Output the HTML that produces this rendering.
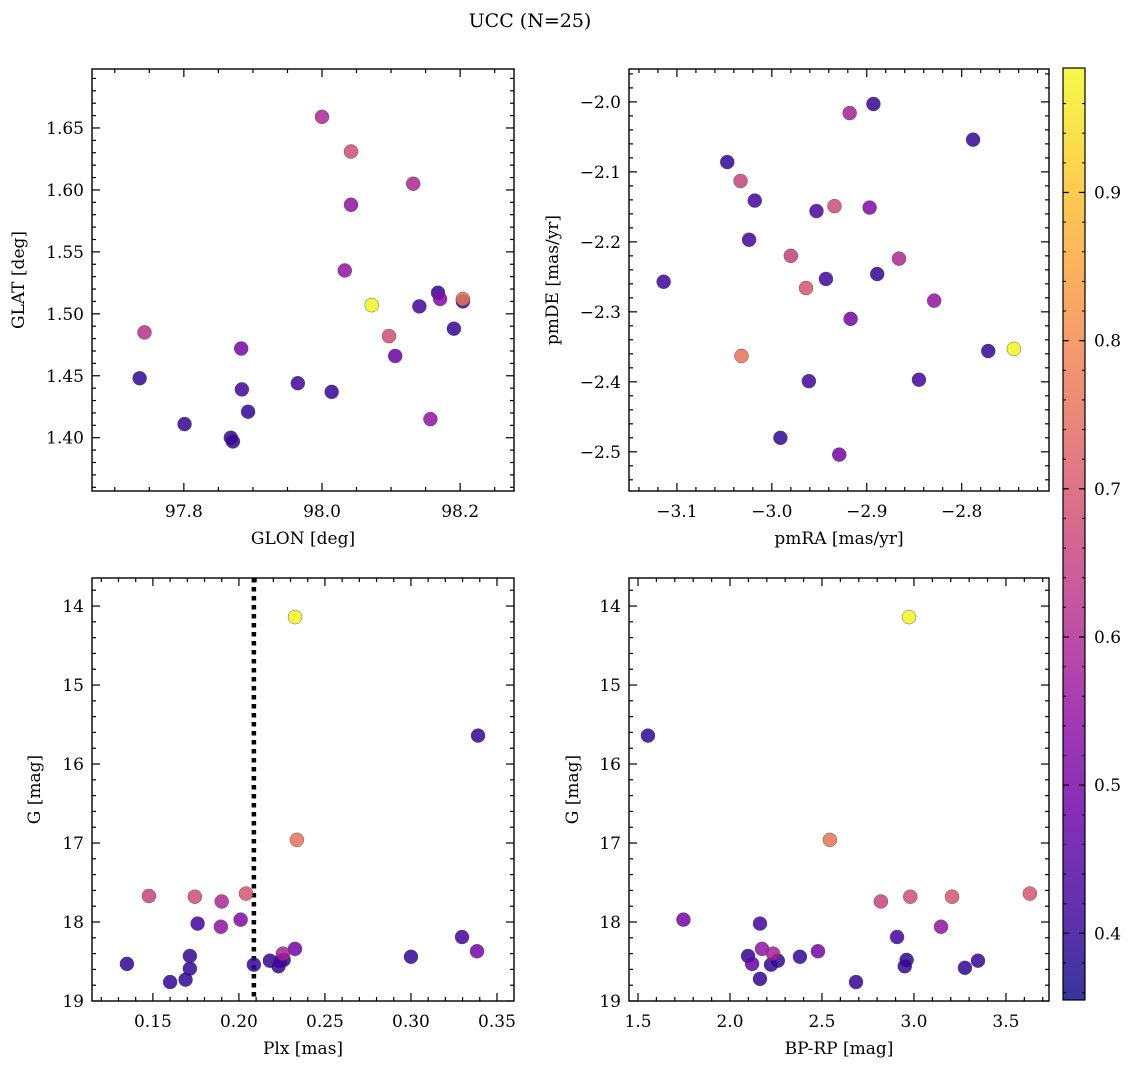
<!DOCTYPE html>
<html><head><meta charset="utf-8"><style>
html,body{margin:0;padding:0;background:#fff}
svg{display:block;font-family:"DejaVu Serif","Liberation Serif",serif}
</style></head><body>
<svg id="fig" width="1136" height="1068" viewBox="0 0 1136 1068" xmlns="http://www.w3.org/2000/svg">
<defs><linearGradient id="cbg" x1="0" y1="1" x2="0" y2="0"></linearGradient></defs>
<text x="530" y="27" font-size="19" text-anchor="middle">UCC (N=25)</text>
</svg>
<script>
// Panel 1: GLON vs GLAT
const p1X=[98.0,98.042,98.042,98.132,98.033,98.072,98.204,98.204,98.168,98.171,98.141,98.191,98.097,98.106,97.743,97.736,97.883,97.884,97.965,98.014,97.893,97.801,97.868,97.871,98.157];
const p1Y=[1.659,1.631,1.588,1.605,1.535,1.507,1.512,1.510,1.517,1.512,1.506,1.488,1.482,1.466,1.485,1.448,1.472,1.439,1.444,1.437,1.421,1.411,1.400,1.397,1.415];
const p1C=[0.60,0.68,0.55,0.60,0.55,0.98,0.76,0.40,0.40,0.52,0.42,0.40,0.68,0.48,0.62,0.40,0.50,0.42,0.42,0.40,0.40,0.40,0.40,0.40,0.55];
// Panel 2: pmRA vs pmDE
const p2X=[-2.918,-2.893,-3.047,-2.788,-3.033,-3.018,-2.953,-2.934,-2.897,-3.024,-2.980,-2.889,-2.943,-2.866,-3.114,-2.964,-2.829,-2.917,-2.772,-2.745,-3.032,-2.961,-2.845,-2.991,-2.929];
const p2Y=[-2.016,-2.003,-2.086,-2.054,-2.113,-2.141,-2.156,-2.149,-2.151,-2.197,-2.220,-2.246,-2.253,-2.224,-2.257,-2.266,-2.284,-2.310,-2.356,-2.353,-2.363,-2.399,-2.397,-2.480,-2.504];
const p2C=[0.58,0.40,0.40,0.40,0.66,0.42,0.43,0.68,0.52,0.42,0.65,0.40,0.42,0.60,0.42,0.70,0.55,0.50,0.40,0.98,0.76,0.42,0.42,0.40,0.50];
// Panel 3: Plx vs G
const p3X=[0.2326,0.339,0.2337,0.1477,0.1744,0.2041,0.190,0.201,0.1895,0.176,0.3297,0.3384,0.2326,0.2256,0.1715,0.300,0.1349,0.218,0.226,0.223,0.2087,0.1715,0.160,0.169,0.224];
const p3Y=[14.14,15.64,16.96,17.67,17.68,17.64,17.74,17.97,18.06,18.02,18.19,18.37,18.34,18.40,18.43,18.44,18.53,18.49,18.48,18.56,18.54,18.59,18.76,18.73,18.50];
const p3C=[0.98,0.40,0.76,0.66,0.68,0.70,0.60,0.52,0.55,0.42,0.42,0.50,0.50,0.58,0.40,0.40,0.40,0.40,0.40,0.40,0.40,0.40,0.40,0.40,0.42];
// Panel 4: BP-RP vs G
const p4X=[2.973,1.554,2.543,3.63,2.98,3.207,2.82,1.747,3.147,2.163,2.908,2.174,2.234,2.478,2.098,2.38,2.12,2.26,2.223,2.96,3.348,2.95,3.277,2.163,2.685];
const p4Y=[14.14,15.64,16.96,17.64,17.68,17.68,17.74,17.97,18.06,18.02,18.19,18.34,18.40,18.37,18.43,18.44,18.53,18.49,18.54,18.48,18.49,18.56,18.58,18.72,18.76];
const p4C=[0.98,0.40,0.76,0.70,0.68,0.70,0.66,0.50,0.55,0.42,0.42,0.55,0.58,0.50,0.40,0.40,0.48,0.40,0.40,0.40,0.40,0.40,0.40,0.40,0.40];
const cbTicks=[0.4,0.5,0.6,0.7,0.8,0.9];
const plxCut=[0.2087];

const NS="http://www.w3.org/2000/svg";
const svg=document.getElementById('fig');
function el(tag,attrs,parent){const e=document.createElementNS(NS,tag);for(const k in attrs)e.setAttribute(k,attrs[k]);(parent||svg).appendChild(e);return e;}
const stops=[[13,8,135],[65,4,157],[106,0,168],[143,13,164],[177,42,144],[204,71,120],[225,100,98],[242,132,75],[252,166,54],[252,206,37],[240,249,33]];
const vmin=0.355,vmax=0.984;
function plasma(v){let t=(v-vmin)/(vmax-vmin);t=Math.max(0,Math.min(1,t))*10;const i=Math.min(9,Math.floor(t)),f=t-i;const a=stops[i],b=stops[i+1];return 'rgb('+a.map((c,k)=>Math.round(c+(b[k]-c)*f)).join(',')+')';}

function panel(cfg){
  const {name,L,T,R,B,xd,yd,xmaj,xmin,ymaj,ymin,xfmt,yfmt,xl,yl,xs,ys,cs,ylx}=cfg;
  const g=el('g',{});
  
  
  const sx=v=>L+(v-xd[0])/(xd[1]-xd[0])*(R-L);
  const sy=v=>T+(v-yd[0])/(yd[1]-yd[0])*(B-T);
  const ticks=el('g',{stroke:'#000','stroke-width':1.2},g);
  
  
  const lo=Math.min(...xd),hi=Math.max(...xd);
  for(let k=Math.ceil(lo/xmin-1e-6);k*xmin<=hi+1e-9;k++){const v=k*xmin,x=sx(v);const maj=Math.abs(v/xmaj-Math.round(v/xmaj))<1e-6;const len=maj?8:4;
    el('line',{x1:x,x2:x,y1:B,y2:B-len},ticks);el('line',{x1:x,x2:x,y1:T,y2:T+len},ticks);
    if(maj){const t=el('text',{x:x,y:B+26,'font-size':17,'text-anchor':'middle',stroke:'none'},g);t.textContent=xfmt(v);}}
  const ylo=Math.min(...yd),yhi=Math.max(...yd);
  for(let k=Math.ceil(ylo/ymin-1e-6);k*ymin<=yhi+1e-9;k++){const v=k*ymin,y=sy(v);const maj=Math.abs(v/ymaj-Math.round(v/ymaj))<1e-6;const len=maj?8:4;
    el('line',{x1:L,x2:L+len,y1:y,y2:y},ticks);el('line',{x1:R,x2:R-len,y1:y,y2:y},ticks);
    if(maj){const t=el('text',{x:L-8,y:y+6,'font-size':17,'text-anchor':'end',stroke:'none'},g);t.textContent=yfmt(v).replace('-','\u2212');}}
  if(cfg.vline){const x=sx(cfg.vline[0]);const ln=el('line',{x1:x,x2:x,y1:T,y2:B,stroke:'#000','stroke-width':4.5,'stroke-dasharray':'4.5,4.5'},g);}
  const order=xs.map((_,i)=>i).sort((a,b)=>cs[a]-cs[b]);
  for(const i of order){const c=el('circle',{cx:sx(xs[i]),cy:sy(ys[i]),r:7,fill:plasma(cs[i]),'fill-opacity':0.85,stroke:'#444','stroke-width':0.4},g);
    
    }
  const fr=el('rect',{x:L,y:T,width:R-L,height:B-T,fill:'none',stroke:'#000','stroke-width':1.4},g);
  
  const xt=el('text',{x:(L+R)/2,y:B+53,'font-size':17,'text-anchor':'middle'},g);xt.textContent=xl;
  
  const yt=el('text',{x:ylx,y:(T+B)/2,'font-size':17,'text-anchor':'middle',transform:'rotate(-90 '+ylx+' '+(T+B)/2+')'},g);yt.textContent=yl;
  
}
const f1=v=>v.toFixed(1),f2=v=>v.toFixed(2),f0=v=>v.toFixed(0);
panel({name:'glon-glat-panel',L:92,T:69,R:514,B:491,xd:[97.667,98.278],yd:[1.6976,1.357],xmaj:0.2,xmin:0.05,ymaj:0.05,ymin:0.01,xfmt:f1,yfmt:f2,xl:'GLON [deg]',yl:'GLAT [deg]',xs:p1X,ys:p1Y,cs:p1C,ylx:24});
panel({name:'pm-panel',L:629,T:69,R:1049,B:491,xd:[-3.1505,-2.708],yd:[-1.953,-2.556],xmaj:0.1,xmin:0.02,ymaj:0.1,ymin:0.02,xfmt:v=>f1(v).replace('-','\u2212'),yfmt:f1,xl:'pmRA [mas/yr]',yl:'pmDE [mas/yr]',xs:p2X,ys:p2Y,cs:p2C,ylx:558});
panel({name:'plx-g-panel',L:92,T:578,R:514,B:1001,xd:[0.1146,0.3599],yd:[13.645,19.0],xmaj:0.05,xmin:0.01,ymaj:1,ymin:0.2,xfmt:f2,yfmt:f0,xl:'Plx [mas]',yl:'G [mag]',xs:p3X,ys:p3Y,cs:p3C,ylx:40,vline:plxCut});
panel({name:'cmd-panel',L:629,T:578,R:1049,B:1001,xd:[1.451,3.734],yd:[13.645,19.0],xmaj:0.5,xmin:0.1,ymaj:1,ymin:0.2,xfmt:f1,yfmt:f0,xl:'BP-RP [mag]',yl:'G [mag]',xs:p4X,ys:p4Y,cs:p4C,ylx:578});

// colorbar
const grad=document.getElementById('cbg');
for(let i=0;i<=10;i++){el('stop',{offset:(i*10)+'%','stop-color':'rgb('+stops[i].join(',')+')','stop-opacity':0.82},grad);}
const cb=el('g',{});


const CT=68,CB=1000,CL=1063,CR=1085;
el('rect',{x:CL,y:CT,width:CR-CL,height:CB-CT,fill:'url(#cbg)',stroke:'#000','stroke-width':1.2},cb);
const cy=v=>CB-(v-vmin)/(vmax-vmin)*(CB-CT);
for(const v of cbTicks){const y=cy(v);el('line',{x1:CR,x2:CR-6,y1:y,y2:y,stroke:'#000','stroke-width':1.2},cb);el('line',{x1:CL,x2:CL+6,y1:y,y2:y,stroke:'#000','stroke-width':1.2},cb);
  const t=el('text',{x:CR+9,y:y+6,'font-size':17},cb);t.textContent=v.toFixed(1);
  
  }
for(let v=0.36;v<0.98;v+=0.02){const y=cy(v);el('line',{x1:CR,x2:CR-3,y1:y,y2:y,stroke:'#000','stroke-width':1},cb);el('line',{x1:CL,x2:CL+3,y1:y,y2:y,stroke:'#000','stroke-width':1},cb);}
</script>
</body></html>
